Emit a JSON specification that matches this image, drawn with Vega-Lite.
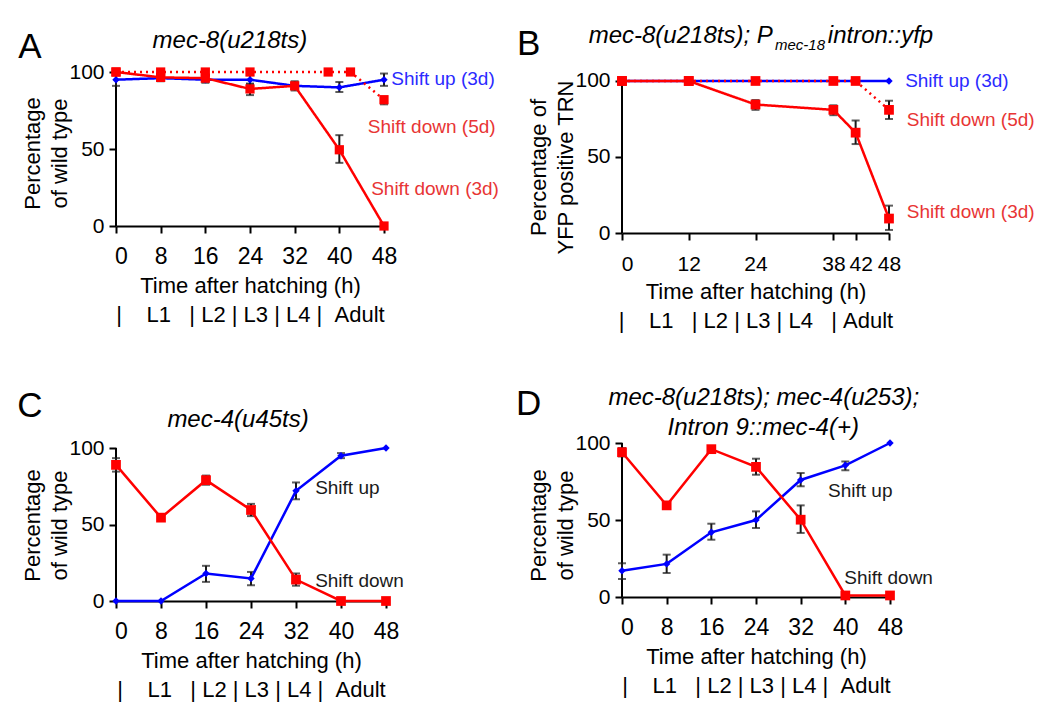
{
  "$schema": "https://vega.github.io/schema/vega-lite/v6.json",
  "autosize": {"type": "none"},
  "padding": {"left": 116, "top": 72, "right": 934, "bottom": 648},
  "background": "white",
  "datasets": {
    "A": [
      {"s": "up", "t": 0, "v": 95, "lo": 91, "hi": 99},
      {"s": "up", "t": 8, "v": 96, "lo": 94, "hi": 98},
      {"s": "up", "t": 16, "v": 95, "lo": 93, "hi": 97},
      {"s": "up", "t": 24, "v": 95, "lo": 92, "hi": 98},
      {"s": "up", "t": 32, "v": 91, "lo": 89, "hi": 93},
      {"s": "up", "t": 40, "v": 90, "lo": 87, "hi": 93.5},
      {"s": "up", "t": 48, "v": 95, "lo": 91, "hi": 99},
      {"s": "d3", "t": 0, "v": 100},
      {"s": "d3", "t": 8, "v": 96.5, "lo": 94.5, "hi": 98.5},
      {"s": "d3", "t": 16, "v": 96, "lo": 94, "hi": 98},
      {"s": "d3", "t": 24, "v": 89, "lo": 85, "hi": 92.5},
      {"s": "d3", "t": 32, "v": 91, "lo": 88, "hi": 94},
      {"s": "d3", "t": 40, "v": 49.5, "lo": 41, "hi": 59},
      {"s": "d3", "t": 48, "v": 0},
      {"s": "d5", "t": 0, "v": 100},
      {"s": "d5", "t": 8, "v": 100},
      {"s": "d5", "t": 16, "v": 100},
      {"s": "d5", "t": 24, "v": 100},
      {"s": "d5", "t": 38, "v": 100},
      {"s": "d5", "t": 42, "v": 100},
      {"s": "d5", "t": 48, "v": 82, "lo": 79, "hi": 84}
    ],
    "B": [
      {"s": "up", "t": 0, "v": 100},
      {"s": "up", "t": 12, "v": 100},
      {"s": "up", "t": 24, "v": 100},
      {"s": "up", "t": 38, "v": 100},
      {"s": "up", "t": 42, "v": 100},
      {"s": "up", "t": 48, "v": 100},
      {"s": "d3", "t": 0, "v": 100},
      {"s": "d3", "t": 12, "v": 100},
      {"s": "d3", "t": 24, "v": 84.5, "lo": 81, "hi": 87.5},
      {"s": "d3", "t": 38, "v": 81, "lo": 77.5, "hi": 84},
      {"s": "d3", "t": 42, "v": 66, "lo": 58.5, "hi": 74},
      {"s": "d3", "t": 48, "v": 9.5, "lo": 2, "hi": 18},
      {"s": "d5", "t": 0, "v": 100},
      {"s": "d5", "t": 12, "v": 100},
      {"s": "d5", "t": 24, "v": 100},
      {"s": "d5", "t": 38, "v": 100},
      {"s": "d5", "t": 42, "v": 100},
      {"s": "d5", "t": 48, "v": 81, "lo": 75, "hi": 87}
    ],
    "C": [
      {"s": "up", "t": 0, "v": 0},
      {"s": "up", "t": 8, "v": 0},
      {"s": "up", "t": 16, "v": 18, "lo": 12.5, "hi": 23},
      {"s": "up", "t": 24, "v": 14.7, "lo": 10.3, "hi": 19},
      {"s": "up", "t": 32, "v": 72, "lo": 66.5, "hi": 77.5},
      {"s": "up", "t": 40, "v": 95, "lo": 93.4, "hi": 96.7},
      {"s": "up", "t": 48, "v": 100},
      {"s": "d3", "t": 0, "v": 89, "lo": 84.6, "hi": 93.4},
      {"s": "d3", "t": 8, "v": 54.5, "lo": 53, "hi": 56},
      {"s": "d3", "t": 16, "v": 79, "lo": 76, "hi": 82},
      {"s": "d3", "t": 24, "v": 59.5, "lo": 55.5, "hi": 63.5},
      {"s": "d3", "t": 32, "v": 14, "lo": 10, "hi": 18},
      {"s": "d3", "t": 40, "v": 0},
      {"s": "d3", "t": 48, "v": 0}
    ],
    "D": [
      {"s": "up", "t": 0, "v": 17, "lo": 11.7, "hi": 21.9},
      {"s": "up", "t": 8, "v": 21.5, "lo": 15.6, "hi": 27.5},
      {"s": "up", "t": 16, "v": 42, "lo": 37.2, "hi": 47.6},
      {"s": "up", "t": 24, "v": 50, "lo": 44.8, "hi": 55.6},
      {"s": "up", "t": 32, "v": 76, "lo": 71.9, "hi": 80.5},
      {"s": "up", "t": 40, "v": 85.5, "lo": 82.3, "hi": 88},
      {"s": "up", "t": 48, "v": 100},
      {"s": "d3", "t": 0, "v": 94, "lo": 91.3, "hi": 96.7},
      {"s": "d3", "t": 8, "v": 59.5},
      {"s": "d3", "t": 16, "v": 96, "lo": 95, "hi": 98},
      {"s": "d3", "t": 24, "v": 84.5, "lo": 79.4, "hi": 89.8},
      {"s": "d3", "t": 32, "v": 50.2, "lo": 41.6, "hi": 59.5},
      {"s": "d3", "t": 40, "v": 1},
      {"s": "d3", "t": 48, "v": 1}
    ]
  },
  "columns": 2,
  "spacing": {"row": 210, "column": 236},
  "bounds": "flush",
  "concat": [
    {
      "width": 268, "height": 154,
      "data": {"name": "A"},
      "encoding": {
        "x": {"field": "t", "type": "quantitative", "scale": {"domain": [0, 48], "nice": false, "zero": false}, "axis": {"values": [0, 8, 16, 24, 32, 40, 48], "labelOffset": {"condition": {"test": "datum.value == 0", "value": 5}, "value": 0}}, "title": ["Time after hatching (h)", "|\u00a0\u00a0\u00a0\u00a0L1\u00a0\u00a0\u00a0|\u00a0L2\u00a0|\u00a0L3\u00a0|\u00a0L4\u00a0|\u00a0\u00a0Adult"]},
        "y": {"field": "v", "type": "quantitative", "scale": {"domain": [0, 100], "nice": false}, "axis": {"values": [0, 50, 100], "titleY": 81}, "title": ["Percentage", "of wild type"]}
      },
      "layer": [
        {"transform": [{"filter": "datum.t == 0 && datum.s == 'up'"}], "mark": {"type": "rule", "color": "black", "strokeWidth": 2}, "encoding": {"x": {"datum": 0}, "y": {"datum": 0}, "y2": {"datum": 100}}},
        {"transform": [{"filter": "isValid(datum.lo)"}], "mark": {"type": "errorbar", "ticks": true, "color": "#1a1a1a", "thickness": 2, "size": 8}, "encoding": {"y": {"field": "lo", "type": "quantitative", "title": ["Percentage", "of wild type"]}, "y2": {"field": "hi"}}},
        {"mark": {"type": "line", "strokeWidth": 2.5}, "encoding": {"color": {"field": "s", "type": "nominal", "scale": {"domain": ["up", "d3", "d5"], "range": ["#0000ff", "#ff0000", "#ff0000"]}, "legend": null}, "strokeDash": {"field": "s", "type": "nominal", "scale": {"domain": ["up", "d3", "d5"], "range": [[1, 0], [1, 0], [2, 4]]}, "legend": null}}},
        {"transform": [{"filter": "datum.s == 'up'"}], "mark": {"type": "point", "shape": "diamond", "filled": true, "size": 55, "color": "#0000ff", "opacity": 1}},
        {"transform": [{"filter": "datum.s != 'up'"}], "mark": {"type": "point", "shape": "square", "filled": true, "size": 85, "color": "#ff0000", "opacity": 1}},
        {"transform": [{"filter": "datum.t == 0 && datum.s == 'up'"}], "mark": {"type": "text", "fontSize": 35, "align": "center", "baseline": "alphabetic", "color": "black"}, "encoding": {"x": {"datum": -15.4}, "y": {"datum": 108.9}, "text": {"value": "A"}}},
        {"transform": [{"filter": "datum.t == 0 && datum.s == 'up'"}], "mark": {"type": "text", "fontSize": 24, "fontStyle": "italic", "align": "center", "baseline": "alphabetic", "color": "black"}, "encoding": {"x": {"datum": 20.4}, "y": {"datum": 115.6}, "text": {"value": "mec-8(u218ts)"}}},
        {"transform": [{"filter": "datum.t == 0 && datum.s == 'up'"}], "mark": {"type": "text", "fontSize": 19, "align": "left", "baseline": "middle", "color": "#2b2bff"}, "encoding": {"x": {"datum": 49.3}, "y": {"datum": 95.5}, "text": {"value": "Shift up (3d)"}}},
        {"transform": [{"filter": "datum.t == 0 && datum.s == 'up'"}], "mark": {"type": "text", "fontSize": 19, "align": "left", "baseline": "middle", "color": "#e83535"}, "encoding": {"x": {"datum": 45.1}, "y": {"datum": 64.3}, "text": {"value": "Shift down (5d)"}}},
        {"transform": [{"filter": "datum.t == 0 && datum.s == 'up'"}], "mark": {"type": "text", "fontSize": 19, "align": "left", "baseline": "middle", "color": "#e83535"}, "encoding": {"x": {"datum": 45.7}, "y": {"datum": 24}, "text": {"value": "Shift down (3d)"}}}
      ]
    },
    {
      "width": 267, "height": 161,
      "data": {"name": "B"},
      "encoding": {
        "x": {"field": "t", "type": "quantitative", "scale": {"domain": [0, 48], "nice": false, "zero": false}, "axis": {"values": [0, 12, 24, 38, 42, 48], "labelFontSize": 21, "labelPadding": 13, "labelOffset": {"condition": {"test": "datum.value == 0 || datum.value == 42", "value": 5}, "value": 0}}, "title": ["Time after hatching (h)", "|\u00a0\u00a0\u00a0\u00a0L1\u00a0\u00a0\u00a0|\u00a0L2\u00a0|\u00a0L3\u00a0|\u00a0L4\u00a0\u00a0\u00a0|\u00a0Adult"]},
        "y": {"field": "v", "type": "quantitative", "scale": {"domain": [0, 105.9], "nice": false}, "axis": {"values": [0, 50, 100], "titleY": 95}, "title": ["Percentage of", "YFP positive TRN"]}
      },
      "layer": [
        {"transform": [{"filter": "datum.t == 0 && datum.s == 'up'"}], "mark": {"type": "rule", "color": "black", "strokeWidth": 2}, "encoding": {"x": {"datum": 0}, "y": {"datum": 0}, "y2": {"datum": 100}}},
        {"transform": [{"filter": "isValid(datum.lo)"}], "mark": {"type": "errorbar", "ticks": true, "color": "#1a1a1a", "thickness": 2, "size": 8}, "encoding": {"y": {"field": "lo", "type": "quantitative", "title": ["Percentage of", "YFP positive TRN"]}, "y2": {"field": "hi"}}},
        {"mark": {"type": "line", "strokeWidth": 2.5}, "encoding": {"color": {"field": "s", "type": "nominal", "scale": {"domain": ["up", "d3", "d5"], "range": ["#0000ff", "#ff0000", "#ff0000"]}, "legend": null}, "strokeDash": {"field": "s", "type": "nominal", "scale": {"domain": ["up", "d3", "d5"], "range": [[1, 0], [1, 0], [2, 4]]}, "legend": null}}},
        {"transform": [{"filter": "datum.s == 'up'"}], "mark": {"type": "point", "shape": "diamond", "filled": true, "size": 55, "color": "#0000ff", "opacity": 1}},
        {"transform": [{"filter": "datum.s != 'up'"}], "mark": {"type": "point", "shape": "square", "filled": true, "size": 95, "color": "#ff0000", "opacity": 1}},
        {"transform": [{"filter": "datum.t == 0 && datum.s == 'up'"}], "mark": {"type": "text", "fontSize": 35, "align": "center", "baseline": "alphabetic", "color": "black"}, "encoding": {"x": {"datum": -16.8}, "y": {"datum": 117.1}, "text": {"value": "B"}}},
        {"transform": [{"filter": "datum.t == 0 && datum.s == 'up'"}], "mark": {"type": "text", "fontSize": 24, "fontStyle": "italic", "align": "right", "baseline": "alphabetic", "color": "black"}, "encoding": {"x": {"datum": 27.1}, "y": {"datum": 124.8}, "text": {"value": "mec-8(u218ts); P"}}},
        {"transform": [{"filter": "datum.t == 0 && datum.s == 'up'"}], "mark": {"type": "text", "fontSize": 15, "fontStyle": "italic", "align": "left", "baseline": "alphabetic", "color": "black"}, "encoding": {"x": {"datum": 27.5}, "y": {"datum": 120.4}, "text": {"value": "mec-18"}}},
        {"transform": [{"filter": "datum.t == 0 && datum.s == 'up'"}], "mark": {"type": "text", "fontSize": 24, "fontStyle": "italic", "align": "left", "baseline": "alphabetic", "color": "black"}, "encoding": {"x": {"datum": 37.0}, "y": {"datum": 124.8}, "text": {"value": "intron::yfp"}}},
        {"transform": [{"filter": "datum.t == 0 && datum.s == 'up'"}], "mark": {"type": "text", "fontSize": 19, "align": "left", "baseline": "middle", "color": "#2b2bff"}, "encoding": {"x": {"datum": 50.9}, "y": {"datum": 100}, "text": {"value": "Shift up (3d)"}}},
        {"transform": [{"filter": "datum.t == 0 && datum.s == 'up'"}], "mark": {"type": "text", "fontSize": 19, "align": "left", "baseline": "middle", "color": "#e83535"}, "encoding": {"x": {"datum": 51.2}, "y": {"datum": 74.3}, "text": {"value": "Shift down (5d)"}}},
        {"transform": [{"filter": "datum.t == 0 && datum.s == 'up'"}], "mark": {"type": "text", "fontSize": 19, "align": "left", "baseline": "middle", "color": "#e83535"}, "encoding": {"x": {"datum": 51.2}, "y": {"datum": 13.8}, "text": {"value": "Shift down (3d)"}}}
      ]
    },
    {
      "width": 270, "height": 158,
      "data": {"name": "C"},
      "encoding": {
        "x": {"field": "t", "type": "quantitative", "scale": {"domain": [0, 48], "nice": false, "zero": false}, "axis": {"values": [0, 8, 16, 24, 32, 40, 48], "labelOffset": {"condition": {"test": "datum.value == 0", "value": 5}, "value": 0}}, "title": ["Time after hatching (h)", "|\u00a0\u00a0\u00a0\u00a0L1\u00a0\u00a0\u00a0|\u00a0L2\u00a0|\u00a0L3\u00a0|\u00a0L4\u00a0|\u00a0\u00a0Adult"]},
        "y": {"field": "v", "type": "quantitative", "scale": {"domain": [0, 103.3], "nice": false}, "axis": {"values": [0, 50, 100], "titleY": 82}, "title": ["Percentage", "of wild type"]}
      },
      "layer": [
        {"transform": [{"filter": "datum.t == 0 && datum.s == 'up'"}], "mark": {"type": "rule", "color": "black", "strokeWidth": 2}, "encoding": {"x": {"datum": 0}, "y": {"datum": 0}, "y2": {"datum": 100}}},
        {"transform": [{"filter": "isValid(datum.lo)"}], "mark": {"type": "errorbar", "ticks": true, "color": "#1a1a1a", "thickness": 2, "size": 8}, "encoding": {"y": {"field": "lo", "type": "quantitative", "title": ["Percentage", "of wild type"]}, "y2": {"field": "hi"}}},
        {"mark": {"type": "line", "strokeWidth": 2.5}, "encoding": {"color": {"field": "s", "type": "nominal", "scale": {"domain": ["up", "d3", "d5"], "range": ["#0000ff", "#ff0000", "#ff0000"]}, "legend": null}}},
        {"transform": [{"filter": "datum.s == 'up'"}], "mark": {"type": "point", "shape": "diamond", "filled": true, "size": 55, "color": "#0000ff", "opacity": 1}},
        {"transform": [{"filter": "datum.s != 'up'"}], "mark": {"type": "point", "shape": "square", "filled": true, "size": 95, "color": "#ff0000", "opacity": 1}},
        {"transform": [{"filter": "datum.t == 0 && datum.s == 'up'"}], "mark": {"type": "text", "fontSize": 35, "align": "center", "baseline": "alphabetic", "color": "black"}, "encoding": {"x": {"datum": -15.3}, "y": {"datum": 120.5}, "text": {"value": "C"}}},
        {"transform": [{"filter": "datum.t == 0 && datum.s == 'up'"}], "mark": {"type": "text", "fontSize": 24, "fontStyle": "italic", "align": "center", "baseline": "alphabetic", "color": "black"}, "encoding": {"x": {"datum": 21.7}, "y": {"datum": 113.5}, "text": {"value": "mec-4(u45ts)"}}},
        {"transform": [{"filter": "datum.t == 0 && datum.s == 'up'"}], "mark": {"type": "text", "fontSize": 19, "align": "left", "baseline": "middle", "color": "#1a1a1a"}, "encoding": {"x": {"datum": 35.4}, "y": {"datum": 73.9}, "text": {"value": "Shift up"}}},
        {"transform": [{"filter": "datum.t == 0 && datum.s == 'up'"}], "mark": {"type": "text", "fontSize": 19, "align": "left", "baseline": "middle", "color": "#1a1a1a"}, "encoding": {"x": {"datum": 35.4}, "y": {"datum": 13.1}, "text": {"value": "Shift down"}}}
      ]
    },
    {
      "width": 268, "height": 154,
      "data": {"name": "D"},
      "encoding": {
        "x": {"field": "t", "type": "quantitative", "scale": {"domain": [0, 48], "nice": false, "zero": false}, "axis": {"values": [0, 8, 16, 24, 32, 40, 48], "labelOffset": {"condition": {"test": "datum.value == 0", "value": 5}, "value": 0}}, "title": ["Time after hatching (h)", "|\u00a0\u00a0\u00a0\u00a0L1\u00a0\u00a0\u00a0|\u00a0L2\u00a0|\u00a0L3\u00a0|\u00a0L4\u00a0|\u00a0\u00a0Adult"]},
        "y": {"field": "v", "type": "quantitative", "scale": {"domain": [0, 100], "nice": false}, "axis": {"values": [0, 50, 100], "titleY": 82}, "title": ["Percentage", "of wild type"]}
      },
      "layer": [
        {"transform": [{"filter": "datum.t == 0 && datum.s == 'up'"}], "mark": {"type": "rule", "color": "black", "strokeWidth": 2}, "encoding": {"x": {"datum": 0}, "y": {"datum": 0}, "y2": {"datum": 100}}},
        {"transform": [{"filter": "isValid(datum.lo)"}], "mark": {"type": "errorbar", "ticks": true, "color": "#1a1a1a", "thickness": 2, "size": 8}, "encoding": {"y": {"field": "lo", "type": "quantitative", "title": ["Percentage", "of wild type"]}, "y2": {"field": "hi"}}},
        {"mark": {"type": "line", "strokeWidth": 2.5}, "encoding": {"color": {"field": "s", "type": "nominal", "scale": {"domain": ["up", "d3", "d5"], "range": ["#0000ff", "#ff0000", "#ff0000"]}, "legend": null}}},
        {"transform": [{"filter": "datum.s == 'up'"}], "mark": {"type": "point", "shape": "diamond", "filled": true, "size": 55, "color": "#0000ff", "opacity": 1}},
        {"transform": [{"filter": "datum.s != 'up'"}], "mark": {"type": "point", "shape": "square", "filled": true, "size": 95, "color": "#ff0000", "opacity": 1}},
        {"transform": [{"filter": "datum.t == 0 && datum.s == 'up'"}], "mark": {"type": "text", "fontSize": 35, "align": "center", "baseline": "alphabetic", "color": "black"}, "encoding": {"x": {"datum": -16.7}, "y": {"datum": 118.2}, "text": {"value": "D"}}},
        {"transform": [{"filter": "datum.t == 0 && datum.s == 'up'"}], "mark": {"type": "text", "fontSize": 24, "fontStyle": "italic", "align": "center", "baseline": "alphabetic", "color": "black"}, "encoding": {"x": {"datum": 25.4}, "y": {"datum": 124.7}, "text": {"value": "mec-8(u218ts); mec-4(u253);"}}},
        {"transform": [{"filter": "datum.t == 0 && datum.s == 'up'"}], "mark": {"type": "text", "fontSize": 24, "fontStyle": "italic", "align": "center", "baseline": "alphabetic", "color": "black"}, "encoding": {"x": {"datum": 25.3}, "y": {"datum": 105.2}, "text": {"value": "Intron 9::mec-4(+)"}}},
        {"transform": [{"filter": "datum.t == 0 && datum.s == 'up'"}], "mark": {"type": "text", "fontSize": 19, "align": "left", "baseline": "middle", "color": "#1a1a1a"}, "encoding": {"x": {"datum": 36.9}, "y": {"datum": 68.8}, "text": {"value": "Shift up"}}},
        {"transform": [{"filter": "datum.t == 0 && datum.s == 'up'"}], "mark": {"type": "text", "fontSize": 19, "align": "left", "baseline": "middle", "color": "#1a1a1a"}, "encoding": {"x": {"datum": 39.8}, "y": {"datum": 12.3}, "text": {"value": "Shift down"}}}
      ]
    }
  ],
  "config": {
    "font": "Liberation Sans",
    "view": {"stroke": null},
    "axis": {"domainColor": "black", "domainWidth": 2, "tickColor": "black", "tickWidth": 2, "tickSize": 7, "labelColor": "black", "titleColor": "black", "titleFontSize": 22, "titleFontWeight": "normal", "grid": false, "labelFlush": false, "labelOverlap": false, "labelBound": false, "labelFont": "Liberation Sans", "titleFont": "Liberation Sans"},
    "axisX": {"labelFontSize": 23, "labelPadding": 12, "titlePadding": 7, "titleLineHeight": 29, "labelAngle": 0},
    "axisY": {"labelFontSize": 21, "labelPadding": 5, "titlePadding": -3, "titleLineHeight": 27, "domain": false}
  }
}
